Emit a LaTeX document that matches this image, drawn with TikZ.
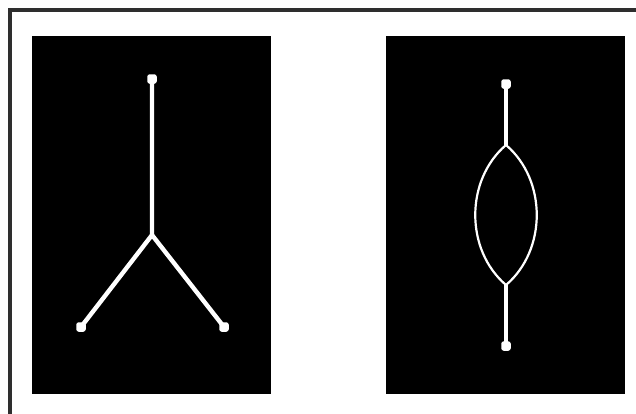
\documentclass[tikz,border=0pt]{standalone}
\begin{document}
\begin{tikzpicture}[x=1pt,y=-1pt,
  panel/.style={fill=black,draw=none},
  stem/.style={draw=white,line width=4.4pt},
  lensline/.style={draw=white,line width=2.2pt},
  enddot/.style={rectangle,rounded corners=2.5pt,fill=white,inner sep=0pt,minimum size=9.5pt}]
\useasboundingbox (0,0) rectangle (636,413);
\fill[white] (0,0) rectangle (636,413);
\draw[line width=4pt,black!82] (10,420) -- (10,10) -- (640,10);
\fill[panel] (32,36) rectangle (271,394);
\fill[panel] (386,36) rectangle (625,394);
% left tree
\node[enddot] (t) at (152,79) {};
\node[enddot] (l) at (81,327) {};
\node[enddot] (r) at (224,327) {};
\coordinate (j) at (152,235);
\draw[stem] (t.center) -- (j) -- (l.center);
\draw[stem] (j) -- (r.center);
% right lens
\node[enddot] (rt) at (506,84) {};
\node[enddot] (rb) at (506,346) {};
\coordinate (lt) at (506,145);
\coordinate (lb) at (506,285);
\draw[stem,line width=3.4pt] (rt.center) -- (lt);
\draw[stem,line width=3.4pt] (lb) -- (rb.center);
\draw[lensline] (lt) .. controls (465,180) and (465,250) .. (lb);
\draw[lensline] (lt) .. controls (547,180) and (547,250) .. (lb);
\end{tikzpicture}
\end{document}
